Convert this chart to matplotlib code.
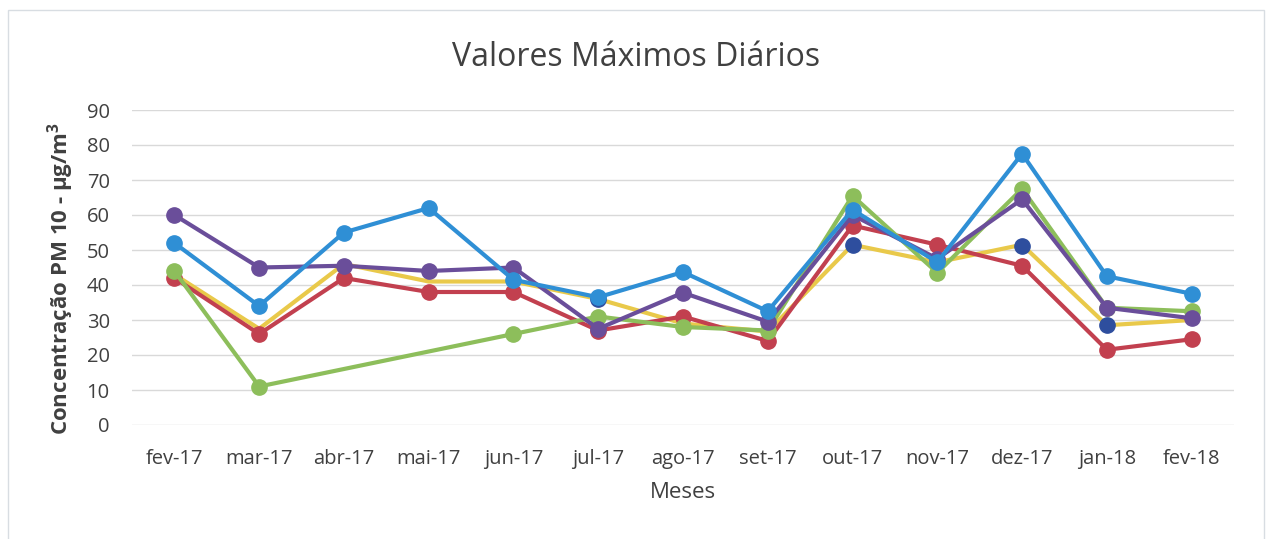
import numpy as np
import matplotlib
matplotlib.use("Agg")
import matplotlib.pyplot as plt
from matplotlib.patches import Rectangle

months = ["fev-17", "mar-17", "abr-17", "mai-17", "jun-17", "jul-17", "ago-17",
          "set-17", "out-17", "nov-17", "dez-17", "jan-18", "fev-18"]
nan = np.nan
yellow = [43, 27.5, 46, 41, 41, 36, 29, 26.7, 51.5, 46.5, 51.5, 28.5, 30]
red = [42, 26, 42, 38, 38, 27, 31, 24, 57, 51.5, 45.5, 21.5, 24.5]
green = [44, 11, nan, nan, 26, 31, 28, 27, 65.5, 43.5, 67.5, 33.5, 32.5]
purple = [60, 45, 45.5, 44, 45, 27.5, 37.8, 29.5, 60, 47.5, 64.5, 33.5, 30.5]
blue = [52, 34, 55, 62, 41.5, 36.5, 43.7, 32.5, 61.5, 46.5, 77.5, 42.5, 37.5]
navy = [nan, nan, nan, nan, nan, 36, nan, nan, 51.5, nan, 51.2, 28.5, nan]
yticks = [0, 10, 20, 30, 40, 50, 60, 70, 80, 90]

fig = plt.figure(figsize=(12.72, 5.39), dpi=100)
fig.patches.append(Rectangle((8/1272, -0.01), (1264-8)/1272, 1 - 10/539 + 0.01,
                             transform=fig.transFigure, fill=False,
                             edgecolor="#d8dde2", linewidth=1))
ax = fig.add_axes([132/1272, 1 - 425/539, 1102/1272, 315/539])
font = "Open Sans"
x = np.arange(len(months))

def plot_series(vals, color, mcolor=None, lw=3.0, ms=11, line=True, marker=True, z=2):
    v = np.array(vals, dtype=float)
    m = ~np.isnan(v)
    mc = mcolor or color
    ax.plot(x[m], v[m], color=color, lw=lw if line else 0,
            linestyle="-" if line else "none",
            marker="o" if marker else None, ms=ms, mfc=mc, mec=mc,
            solid_capstyle="round", zorder=z)

plot_series(yellow, "#E9C94A", marker=False, z=2)
plot_series(red, "#C2404F", z=3)
plot_series(green, "#8DBE5B", z=4)
plot_series(navy, "#2E4E9E", line=False, z=5)
plot_series(purple, "#6A4E9A", z=6)
plot_series(blue, "#2F8FD5", z=7)

ax.set_xlim(-0.5, 12.5)
ax.set_ylim(0, 90)
ax.set_yticks(yticks)
ax.set_yticklabels([str(t) for t in yticks], fontfamily=font, fontsize=14.5, color="#404040")
ax.set_xticks(x)
ax.set_xticklabels(months, fontfamily=font, fontsize=14.5, color="#404040")
ax.tick_params(axis="x", length=0, pad=17)
ax.tick_params(axis="y", length=0, pad=16)
ax.grid(axis="y", color="#d9d9d9", lw=1)
ax.set_axisbelow(True)
for s in ax.spines.values():
    s.set_visible(False)
ax.set_xlabel("Meses", fontfamily=font, fontsize=16, color="#404040", labelpad=10)
ax.set_ylabel("Concentração PM 10 - µg/m$^\\mathregular{3}$", fontfamily=font,
              fontsize=16, fontweight="bold", color="#404040")
ax.yaxis.set_label_coords(-56/1102, 0.465)
fig.text(0.5, 1 - 57/539, "Valores Máximos Diários", ha="center", va="center",
         fontfamily=font, fontsize=23, color="#404040")

fig.savefig("out.png", dpi=100)
